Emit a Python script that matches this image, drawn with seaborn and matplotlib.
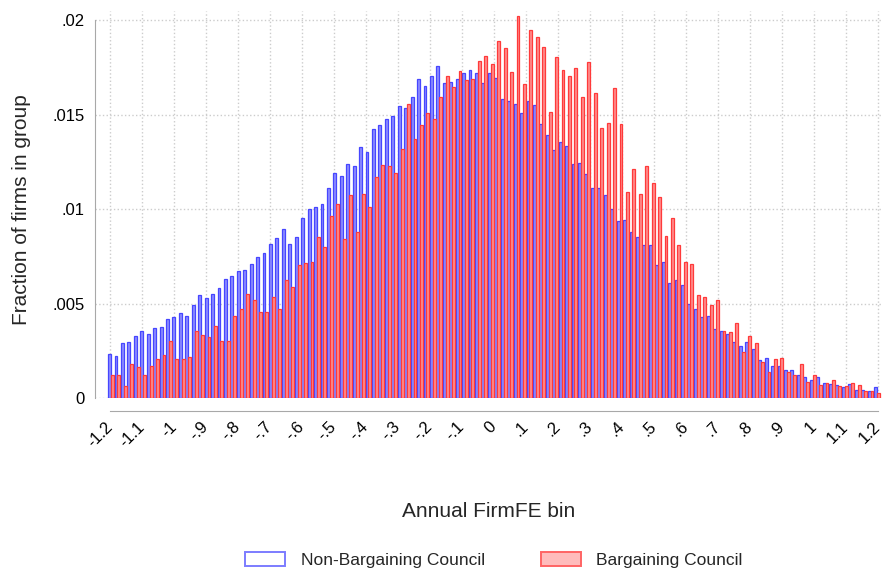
import numpy as np
import pandas as pd
import matplotlib.pyplot as plt
import seaborn as sns
from matplotlib.patches import Patch

# ---------------------------------------------------------------
# data: fraction of firms per FirmFE bin (120 bins, -1.2 .. 1.2)
# ---------------------------------------------------------------
non_bc = [
    .00235, .00221, .00289, .00294, .00328, .00352, .00338, .00373, .00378, .00418,
    .00430, .00451, .00436, .00491, .00544, .00531, .00549, .00582, .00632, .00645,
    .00674, .00679, .00710, .00746, .00765, .00816, .00849, .00896, .00816, .00854,
    .00954, .01000, .01012, .01028, .01112, .01193, .01174, .01240, .01228, .01330,
    .01303, .01421, .01442, .01477, .01493, .01544, .01532, .01592, .01690, .01650,
    .01706, .01759, .01667, .01671, .01688, .01717, .01738, .01717, .01665, .01722,
    .01692, .01583, .01570, .01556, .01507, .01572, .01549, .01451, .01394, .01312,
    .01354, .01331, .01239, .01246, .01183, .01113, .01113, .01074, .00998, .00935,
    .00942, .00880, .00852, .00808, .00808, .00704, .00717, .00611, .00625, .00599,
    .00496, .00470, .00428, .00435, .00364, .00357, .00338, .00294, .00276, .00298,
    .00257, .00200, .00212, .00172, .00172, .00148, .00146, .00122, .00111, .00094,
    .00109, .00078, .00073, .00069, .00057, .00075, .00043, .00042, .00036, .00057,
]
bc = [
    .00120, .00124, .00066, .00181, .00164, .00124, .00172, .00209, .00230, .00300,
    .00207, .00209, .00218, .00354, .00333, .00321, .00382, .00300, .00300, .00433,
    .00472, .00549, .00519, .00454, .00456, .00537, .00472, .00623, .00589, .00702,
    .00714, .00718, .00854, .00798, .00961, .01028, .00839, .01074, .00877, .01080,
    .01011, .01171, .01234, .01225, .01192, .01319, .01556, .01373, .01444, .01509,
    .01477, .01593, .01704, .01644, .01729, .01681, .01688, .01783, .01812, .01768,
    .01891, .01852, .01724, .02023, .01660, .01947, .01908, .01857, .01512, .01806,
    .01738, .01704, .01748, .01592, .01780, .01613, .01431, .01456, .01639, .01451,
    .01090, .01210, .01081, .01227, .01139, .01063, .00859, .00952, .00810, .00717,
    .00710, .00544, .00533, .00491, .00519, .00357, .00347, .00396, .00245, .00327,
    .00293, .00189, .00139, .00208, .00212, .00137, .00120, .00181, .00087, .00120,
    .00071, .00078, .00097, .00064, .00066, .00080, .00071, .00038, .00035, .00026,
]
groups = ["Non-Bargaining Council", "Bargaining Council"]

xtick_vals = [-1.2, -1.1, -1.0, -0.9, -0.8, -0.7, -0.6, -0.5, -0.4, -0.3, -0.2, -0.1,
              0.0, 0.1, 0.2, 0.3, 0.4, 0.5, 0.6, 0.7, 0.8, 0.9, 1.0, 1.1, 1.2]
xtick_labels = ["-1.2", "-1.1", "-1", "-.9", "-.8", "-.7", "-.6", "-.5", "-.4", "-.3",
                "-.2", "-.1", "0", ".1", ".2", ".3", ".4", ".5", ".6", ".7", ".8",
                ".9", "1", "1.1", "1.2"]
ytick_vals = [0, .005, .01, .015, .02]
ytick_labels = ["0", ".005", ".01", ".015", ".02"]

n_bins = len(bc)
df = pd.DataFrame({
    "bin": list(range(n_bins)) * 2,
    "frac": non_bc + bc,
    "group": [groups[0]] * n_bins + [groups[1]] * n_bins,
})

# ---------------------------------------------------------------
# plot
# ---------------------------------------------------------------
sns.set_style("white")
plt.rcParams["font.family"] = ["Liberation Sans", "DejaVu Sans"]

fig = plt.figure(figsize=(8.86, 5.74), dpi=100)
ax = fig.add_axes([0.1072, 0.3066, 0.8894, 0.675])

blue_edge, blue_fill = "#4646ff", "#8c8cff"
red_edge, red_fill = "#ff3a3a", "#ff8c8c"

sns.barplot(data=df, x="bin", y="frac", hue="group", hue_order=groups,
            palette={groups[0]: blue_fill, groups[1]: red_fill},
            dodge=True, width=0.9, legend=False, ax=ax)

for cont, ec, fc in zip(ax.containers, [blue_edge, red_edge], [blue_fill, red_fill]):
    for bar in cont:
        bar.set_facecolor(fc)
        bar.set_edgecolor(ec)
        bar.set_linewidth(0.9)


# map an FirmFE value to the categorical bar position
def pos(v):
    return -0.155 + (v + 1.2) / 2.4 * 119.31


ax.set_xlim(-2.49, 119.93)
ax.set_ylim(0, 0.0205)
ax.set_xticks([pos(v) for v in xtick_vals])
ax.set_xticklabels(xtick_labels)
ax.set_yticks(ytick_vals)
ax.set_yticklabels(ytick_labels)

ax.set_axisbelow(True)
ax.grid(True, linestyle=":", color="#cccccc", linewidth=1.0)

sns.despine(ax=ax)
spine_col = "#a8a8a8"
ax.spines["left"].set_color(spine_col)
ax.spines["left"].set_bounds(0, 0.02)
ax.spines["bottom"].set_color(spine_col)
ax.spines["bottom"].set_position(("outward", 9.5))
ax.spines["bottom"].set_bounds(pos(-1.2), pos(1.2))
ax.tick_params(axis="both", length=4.5, width=1, color=spine_col,
               labelsize=12, labelcolor="black")
ax.tick_params(axis="x", pad=5)
ax.tick_params(axis="y", pad=3)
plt.setp(ax.get_xticklabels(), rotation=45, ha="right", va="center",
         rotation_mode="anchor")

ax.set_xlabel("Annual FirmFE bin", fontsize=15, va="center")
ax.xaxis.set_label_coords(0.5, -0.292)
ax.set_ylabel("Fraction of firms in group", fontsize=15, va="center")
ax.yaxis.set_label_coords(-0.093, 0.485)

handles = [Patch(facecolor="white", edgecolor="#7c7cff", linewidth=1.4),
           Patch(facecolor="#ffbcbc", edgecolor="#ff6464", linewidth=1.4)]
fig.legend(handles, groups, loc="center", bbox_to_anchor=(494 / 886, 1 - 560 / 574),
           ncol=2, frameon=False, fontsize=12.5, handlelength=2.3,
           handleheight=0.9, columnspacing=3.2, handletextpad=0.9)

plt.savefig("out.png", dpi=100)
plt.close()
